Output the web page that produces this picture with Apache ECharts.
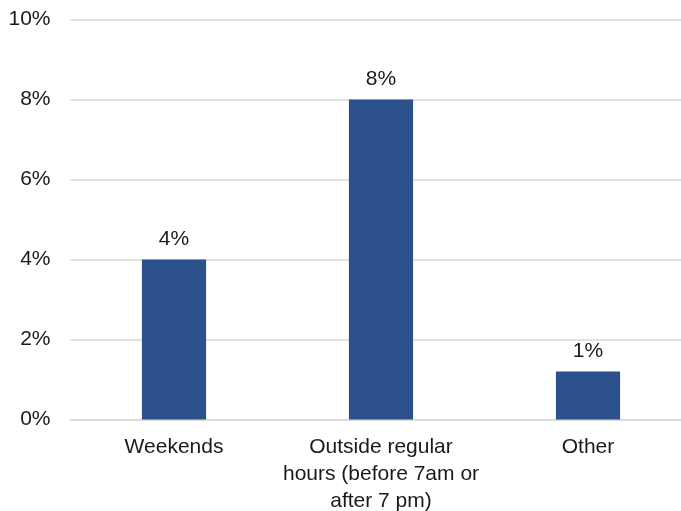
<!DOCTYPE html>
<html>
<head>
<meta charset="utf-8">
<script src="https://cdn.jsdelivr.net/npm/echarts@6/dist/echarts.min.js"></script>
<style>
  html, body { margin: 0; padding: 0; background: #fff; }
  #chart { width: 681px; height: 511px; }
</style>
</head>
<body>
<div id="chart"></div>
<script>
// Share of work done outside normal schedule, by time period
const categories = ['Weekends', 'Outside regular\nhours (before 7am or\nafter 7 pm)', 'Other'];
const shares = [4.0, 8.0, 1.2];
const yTicks = { min: 0, max: 10, interval: 2 };

const FONT = '"Liberation Sans", Arial, sans-serif';
const chart = echarts.init(document.getElementById('chart'), null, { renderer: 'canvas' });

chart.setOption({
  animation: false,
  grid: {
    left: 70.5, width: 621, top: 19.5, bottom: 91.5,
    containLabel: false,
    outerBoundsMode: 'none'
  },
  xAxis: {
    type: 'category',
    data: categories,
    axisLine: { show: true, lineStyle: { color: '#d9d9d9', width: 1.5 } },
    axisTick: { show: false },
    axisLabel: {
      interval: 0,
      margin: 14,
      color: '#1a1a1a',
      fontFamily: FONT,
      fontSize: 21,
      lineHeight: 27,
      align: 'center'
    }
  },
  yAxis: {
    type: 'value',
    min: yTicks.min,
    max: yTicks.max,
    interval: yTicks.interval,
    axisLine: { show: false },
    axisTick: { show: false },
    splitLine: { lineStyle: { color: '#d9d9d9', width: 1.5 } },
    axisLabel: {
      margin: 20,
      color: '#1a1a1a',
      fontFamily: FONT,
      fontSize: 21,
      formatter: v => v + '%'
    }
  },
  series: [{
    type: 'bar',
    data: shares,
    barWidth: '31%',
    itemStyle: { color: '#2c5089' },
    label: {
      show: true,
      position: 'top',
      distance: 10,
      color: '#1a1a1a',
      fontFamily: FONT,
      fontSize: 21,
      formatter: p => Math.round(p.value) + '%'
    }
  }]
});
</script>
</body>
</html>
